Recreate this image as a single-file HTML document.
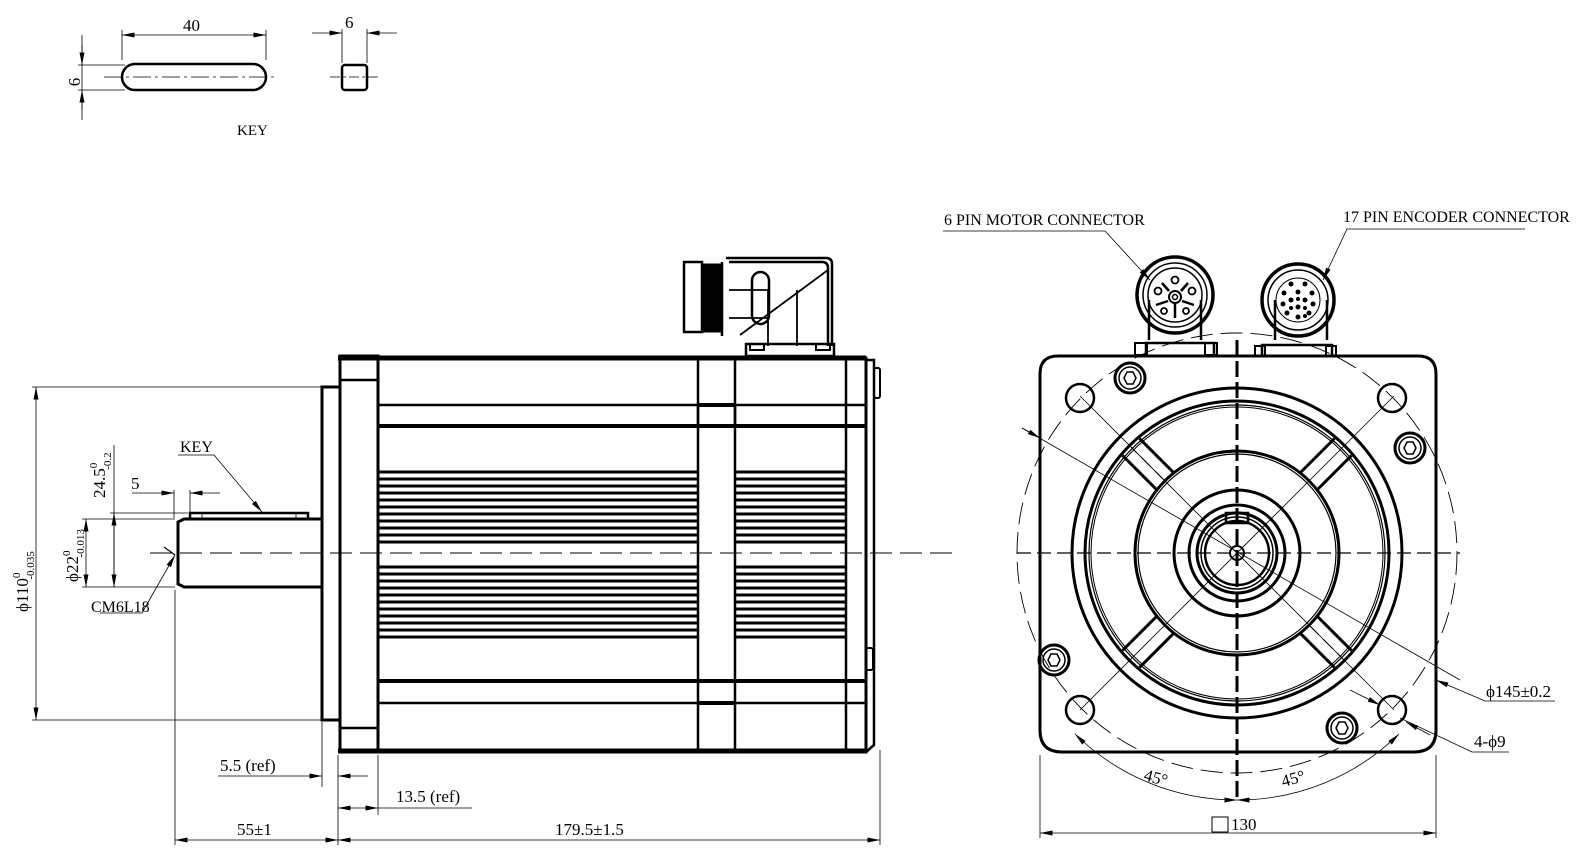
<!DOCTYPE html>
<html><head><meta charset="utf-8"><style>
html,body{margin:0;padding:0;background:#fff;width:1587px;height:867px;overflow:hidden}
svg{display:block}
text{font-family:"Liberation Serif",serif;fill:#000}
</style></head><body>
<svg width="1587" height="867" viewBox="0 0 1587 867" xmlns="http://www.w3.org/2000/svg">
<defs>
<marker id="a" viewBox="0 0 10 4" refX="10" refY="2" markerWidth="14" markerHeight="5" orient="auto-start-reverse" markerUnits="userSpaceOnUse"><path d="M0,0L10,2L0,4z" fill="#000"/></marker>
</defs>
<g stroke="#000" fill="none">
<!-- KEY detail -->
<rect x="122" y="64" width="144" height="26" rx="13" stroke-width="2.5"/>
<line x1="104" y1="77" x2="278" y2="77" stroke-width="0.8" stroke-dasharray="18,4,3,4"/>
<line x1="122" y1="60" x2="122" y2="30" stroke-width="0.8"/>
<line x1="266" y1="60" x2="266" y2="30" stroke-width="0.8"/>
<line x1="122" y1="35" x2="266" y2="35" stroke-width="0.8" marker-start="url(#a)" marker-end="url(#a)"/>
<line x1="78" y1="65" x2="125" y2="65" stroke-width="0.8"/>
<line x1="78" y1="90" x2="125" y2="90" stroke-width="0.8"/>
<line x1="82" y1="35" x2="82" y2="120" stroke-width="0.8"/>
<line x1="82" y1="45" x2="82" y2="65" stroke-width="0.8" marker-end="url(#a)"/>
<line x1="82" y1="110" x2="82" y2="90" stroke-width="0.8" marker-end="url(#a)"/>
<rect x="342" y="65" width="25" height="25" rx="3" stroke-width="2.5"/>
<line x1="330" y1="77" x2="380" y2="77" stroke-width="0.8" stroke-dasharray="10,3,3,3"/>
<line x1="342" y1="63" x2="342" y2="29" stroke-width="0.8"/>
<line x1="367" y1="63" x2="367" y2="29" stroke-width="0.8"/>
<line x1="312" y1="33" x2="342" y2="33" stroke-width="0.8" marker-end="url(#a)"/>
<line x1="397" y1="33" x2="367" y2="33" stroke-width="0.8" marker-end="url(#a)"/>

<!-- SIDE VIEW -->
<line x1="150" y1="553" x2="955" y2="553" stroke-width="1" stroke-dasharray="22,8"/>
<path d="M322,519 H184 L178,522 V584 L184,587 H322" stroke-width="3"/>
<path d="M190,519 V513 H308 V519" stroke-width="2.5"/>
<line x1="202" y1="514" x2="202" y2="520" stroke-width="0.8"/>
<line x1="296" y1="514" x2="296" y2="520" stroke-width="0.8"/>
<rect x="322" y="387" width="18" height="333" stroke-width="3"/>
<rect x="340" y="356" width="38" height="396" stroke-width="3"/>
<line x1="340" y1="380" x2="378" y2="380" stroke-width="2.5"/>
<line x1="340" y1="728" x2="378" y2="728" stroke-width="2.5"/>
<rect x="378" y="358" width="488" height="394" stroke-width="3"/>
<line x1="338" y1="358" x2="866" y2="358" stroke-width="5"/>
<line x1="338" y1="751" x2="866" y2="751" stroke-width="5"/>
<line x1="378" y1="405" x2="866" y2="405" stroke-width="2.5"/>
<line x1="378" y1="426" x2="866" y2="426" stroke-width="4"/>
<line x1="378" y1="681" x2="866" y2="681" stroke-width="4"/>
<line x1="378" y1="703" x2="866" y2="703" stroke-width="2.5"/>
<line x1="698" y1="358" x2="698" y2="752" stroke-width="2.5"/>
<line x1="735" y1="358" x2="735" y2="752" stroke-width="2.5"/>
<line x1="846" y1="358" x2="846" y2="752" stroke-width="2.5"/>
<rect x="698" y="405" width="37" height="21" stroke-width="2.5"/>
<line x1="698" y1="405" x2="735" y2="405" stroke-width="4"/>
<line x1="698" y1="703" x2="735" y2="703" stroke-width="4"/>
<path d="M378,472H698M378,479H698M378,486H698M378,493H698M378,500H698M378,507H698M378,514H698M378,521H698M378,528H698M378,535H698M378,574H698M378,581H698M378,588H698M378,595H698M378,602H698M378,609H698M378,616H698M378,623H698M378,630H698M378,637H698M378,567H698M378,542H698" stroke-width="3"/>
<path d="M735,472H846M735,479H846M735,486H846M735,493H846M735,500H846M735,507H846M735,514H846M735,521H846M735,528H846M735,535H846M735,574H846M735,581H846M735,588H846M735,595H846M735,602H846M735,609H846M735,616H846M735,623H846M735,630H846M735,637H846M735,567H846M735,542H846" stroke-width="3"/>
<path d="M866,360 H874 V745 L866,752" stroke-width="2.5"/>
<rect x="874" y="368" width="6" height="30" rx="2" stroke-width="2"/>
<rect x="866" y="648" width="7" height="22" rx="2" stroke-width="2"/>
<rect x="684" y="262" width="18" height="70" stroke-width="2.5"/>
<rect x="702" y="264" width="20" height="68" fill="#000" stroke-width="1"/>
<path d="M722,262 V336 M726,258 H826 Q832,258 832,264 V346 M729,262 H822 Q828,262 828,268 V346" stroke-width="2.5"/>
<path d="M729,290 H768 M729,318 H768 M768,290 V346 M797,290 V346 M740,335 L828,270" stroke-width="1.8"/>
<rect x="752" y="272" width="17" height="52" rx="8.5" stroke-width="2.5"/>
<rect x="746" y="344" width="88" height="12" stroke-width="2.5"/>
<rect x="750" y="344" width="14" height="6" stroke-width="2"/>
<rect x="816" y="344" width="14" height="6" stroke-width="2"/>
<line x1="322" y1="387" x2="32" y2="387" stroke-width="0.8"/>
<line x1="322" y1="720" x2="32" y2="720" stroke-width="0.8"/>
<line x1="36" y1="387" x2="36" y2="720" stroke-width="0.8" marker-start="url(#a)" marker-end="url(#a)"/>
<line x1="175" y1="519" x2="82" y2="519" stroke-width="0.8"/>
<line x1="175" y1="587" x2="82" y2="587" stroke-width="0.8"/>
<line x1="86" y1="519" x2="86" y2="587" stroke-width="0.8" marker-start="url(#a)" marker-end="url(#a)"/>
<line x1="188" y1="513" x2="110" y2="513" stroke-width="0.8"/>
<line x1="114" y1="445" x2="114" y2="587" stroke-width="0.8"/>
<line x1="114" y1="513" x2="114" y2="587" stroke-width="0.8" marker-start="url(#a)" marker-end="url(#a)"/>
<line x1="174" y1="490" x2="174" y2="518" stroke-width="0.8"/>
<line x1="190" y1="490" x2="190" y2="512" stroke-width="0.8"/>
<line x1="132" y1="493" x2="174" y2="493" stroke-width="0.8" marker-end="url(#a)"/>
<line x1="220" y1="493" x2="190" y2="493" stroke-width="0.8" marker-end="url(#a)"/>
<path d="M178,455 H214 L262,512" stroke-width="0.8" marker-end="url(#a)"/>
<path d="M100,613 H142 L175,555" stroke-width="0.8" marker-end="url(#a)"/>
<line x1="164" y1="547" x2="175" y2="555" stroke-width="1.2"/>
<line x1="175" y1="590" x2="175" y2="845" stroke-width="0.8"/>
<line x1="338" y1="755" x2="338" y2="845" stroke-width="0.8"/>
<line x1="322" y1="722" x2="322" y2="787" stroke-width="0.8"/>
<line x1="378" y1="755" x2="378" y2="815" stroke-width="0.8"/>
<line x1="880" y1="750" x2="880" y2="845" stroke-width="0.8"/>
<line x1="218" y1="776" x2="322" y2="776" stroke-width="0.8" marker-end="url(#a)"/>
<line x1="368" y1="776" x2="338" y2="776" stroke-width="0.8" marker-end="url(#a)"/>
<line x1="338" y1="808" x2="378" y2="808" stroke-width="0.8" marker-start="url(#a)" marker-end="url(#a)"/>
<line x1="378" y1="808" x2="472" y2="808" stroke-width="0.8"/>
<line x1="175" y1="840" x2="338" y2="840" stroke-width="0.8" marker-start="url(#a)" marker-end="url(#a)"/>
<line x1="338" y1="840" x2="880" y2="840" stroke-width="0.8" marker-start="url(#a)" marker-end="url(#a)"/>

<!-- FRONT VIEW -->
<path d="M1058,356 H1418 Q1436,356 1436,374 V730 Q1436,752 1414,752 H1062 Q1040,752 1040,730 V374 Q1040,356 1058,356Z" stroke-width="3"/>
<circle cx="1237" cy="553" r="220" stroke-width="0.9" stroke-dasharray="22,8"/>
<line x1="1017" y1="553" x2="1460" y2="553" stroke-width="1.2" stroke-dasharray="14,6"/>
<line x1="1237" y1="340" x2="1237" y2="800" stroke-width="3" stroke-dasharray="16,5"/>
<circle cx="1237" cy="553" r="165" stroke-width="3"/>
<circle cx="1237" cy="553" r="152" stroke-width="3"/>
<circle cx="1237" cy="553" r="148" stroke-width="1.2"/>
<circle cx="1237" cy="553" r="146" stroke-width="1"/>
<circle cx="1237" cy="553" r="102" stroke-width="3"/>
<circle cx="1237" cy="553" r="99" stroke-width="1.2"/>
<circle cx="1237" cy="553" r="63" stroke-width="3"/>
<circle cx="1237" cy="553" r="48" stroke-width="3"/>
<circle cx="1237" cy="553" r="40" stroke-width="3"/>
<circle cx="1237" cy="553" r="36" stroke-width="1.5"/>
<circle cx="1237" cy="553" r="32" stroke-width="2.5"/>
<rect x="1226" y="513" width="22" height="10" stroke-width="2.5"/>
<circle cx="1237" cy="553" r="7" stroke-width="2"/>
<g stroke-width="3">
<path d="M1173.5,472.5 L1139.5,438.5 M1156.5,489.5 L1122.5,455.5"/>
<path d="M1173.5,472.5 L1139.5,438.5 M1156.5,489.5 L1122.5,455.5" transform="rotate(90 1237 553)"/>
<path d="M1173.5,472.5 L1139.5,438.5 M1156.5,489.5 L1122.5,455.5" transform="rotate(180 1237 553)"/>
<path d="M1173.5,472.5 L1139.5,438.5 M1156.5,489.5 L1122.5,455.5" transform="rotate(270 1237 553)"/>
</g>
<g stroke-width="1" stroke-dasharray="14,6">
<line x1="1165" y1="481" x2="1131" y2="447"/>
<line x1="1309" y1="625" x2="1343" y2="659"/>
</g>
<g stroke-width="0.8">
<line x1="1080" y1="396" x2="1394" y2="710"/>
<line x1="1394" y1="396" x2="1080" y2="710"/>
<line x1="1022" y1="428" x2="1460" y2="680"/>
</g>
<g stroke-width="2.5">
<circle cx="1080" cy="398" r="14"/><circle cx="1392" cy="398" r="14"/>
<circle cx="1080" cy="710" r="14"/><circle cx="1392" cy="710" r="14"/>
</g>
<g stroke-width="3">
<circle cx="1130" cy="378" r="15"/><circle cx="1410" cy="448" r="15"/>
<circle cx="1054" cy="660" r="15"/><circle cx="1342" cy="728" r="15"/>
</g>
<g stroke-width="1.5">
<circle cx="1130" cy="378" r="11"/><circle cx="1410" cy="448" r="11"/>
<circle cx="1054" cy="660" r="11"/><circle cx="1342" cy="728" r="11"/>
<path d="M1124,378l3,-6h6l3,6l-3,6h-6z"/><path d="M1404,448l3,-6h6l3,6l-3,6h-6z"/>
<path d="M1048,660l3,-6h6l3,6l-3,6h-6z"/><path d="M1336,728l3,-6h6l3,6l-3,6h-6z"/>
</g>
<path d="M1149,340 V300 M1201,340 V300" stroke-width="2.5"/>
<rect x="1146" y="343" width="68" height="13" stroke-width="2.5"/>
<rect x="1135" y="343" width="12" height="12" stroke-width="2"/>
<rect x="1205" y="343" width="12" height="12" stroke-width="2"/>
<circle cx="1175" cy="295" r="38" stroke-width="3.5"/>
<circle cx="1175" cy="295" r="32" stroke-width="1.5"/>
<circle cx="1175" cy="295" r="27" stroke-width="1.5"/>
<circle cx="1175" cy="297" r="6" stroke-width="2"/>
<circle cx="1175" cy="297" r="2.5" stroke-width="1.5"/>
<g stroke-width="1.8"><circle cx="1175" cy="280" r="3.5"/><circle cx="1158" cy="291" r="3.5"/><circle cx="1192" cy="291" r="3.5"/><circle cx="1164" cy="311" r="3"/><circle cx="1186" cy="311" r="3"/></g>
<path d="M1168,301L1156,305 M1182,301L1194,305 M1175,303V318 M1169,291L1162,283 M1181,291L1188,283" stroke-width="2.5"/>
<path d="M1275,340 V300 M1327,340 V300" stroke-width="2.5"/>
<rect x="1262" y="345" width="70" height="11" stroke-width="2.5"/>
<rect x="1255" y="346" width="10" height="10" stroke-width="2"/>
<rect x="1326" y="346" width="10" height="10" stroke-width="2"/>
<circle cx="1298" cy="300" r="36" stroke-width="3.5"/>
<circle cx="1298" cy="300" r="30" stroke-width="1.5"/>
<circle cx="1298" cy="300" r="22" stroke-width="1"/>
<g fill="#000" stroke="none">
<circle cx="1291" cy="284" r="2.5"/><circle cx="1305" cy="284" r="2.5"/><circle cx="1284" cy="293" r="2.5"/><circle cx="1298" cy="292" r="2.5"/><circle cx="1312" cy="293" r="2.5"/>
<circle cx="1283" cy="304" r="2.5"/><circle cx="1291" cy="300" r="2.5"/><circle cx="1305" cy="300" r="2.5"/><circle cx="1313" cy="304" r="2.5"/><circle cx="1298" cy="307" r="2.5"/>
<circle cx="1287" cy="313" r="2.5"/><circle cx="1298" cy="317" r="2.5"/><circle cx="1309" cy="313" r="2.5"/><circle cx="1291" cy="308" r="2"/><circle cx="1305" cy="308" r="2"/><circle cx="1298" cy="299" r="2"/><circle cx="1305" cy="316" r="2"/>
</g>
<path d="M943,231 H1105 L1150,280" stroke-width="0.8" marker-end="url(#a)"/>
<path d="M1525,229 H1347 L1323,280" stroke-width="0.8" marker-end="url(#a)"/>
<path d="M1555,701 H1485 L1436,680" stroke-width="0.8" marker-end="url(#a)"/>
<path d="M1509,752 H1472 L1400,718" stroke-width="0.8"/>
<line x1="1350" y1="690" x2="1380" y2="705" stroke-width="0.8" marker-end="url(#a)"/>
<line x1="1430" y1="735" x2="1406" y2="722" stroke-width="0.8" marker-end="url(#a)"/>
<line x1="1022" y1="428" x2="1040" y2="438" stroke-width="0.8" marker-end="url(#a)"/>
<path d="M1075,734 A230,230 0 0 0 1237,800" stroke-width="0.8" marker-start="url(#a)" marker-end="url(#a)"/>
<path d="M1237,800 A230,230 0 0 0 1399,734" stroke-width="0.8" marker-start="url(#a)" marker-end="url(#a)"/>
<line x1="1040" y1="755" x2="1040" y2="838" stroke-width="0.8"/>
<line x1="1436" y1="755" x2="1436" y2="838" stroke-width="0.8"/>
<line x1="1040" y1="833" x2="1436" y2="833" stroke-width="0.8" marker-start="url(#a)" marker-end="url(#a)"/>
<rect x="1212" y="817" width="16" height="15" stroke-width="1"/>
</g>
<g font-size="17">
<text x="183" y="31">40</text>
<text x="345" y="28">6</text>
<text x="80" y="82" transform="rotate(-90 80 82)" text-anchor="middle">6</text>
<text x="237" y="135" font-size="15">KEY</text>
<text x="180" y="452" font-size="16">KEY</text>
<text x="131" y="489">5</text>
<text x="91" y="612" font-size="16">CM6L18</text>
<text x="105" y="498" transform="rotate(-90 105 498)">24.5<tspan font-size="11" dy="-8">0</tspan><tspan font-size="11" dx="-7" dy="14">-0.2</tspan></text>
<text x="78" y="582" transform="rotate(-90 78 582)">ϕ22<tspan font-size="11" dy="-8">0</tspan><tspan font-size="11" dx="-7" dy="14">-0.013</tspan></text>
<text x="28" y="612" transform="rotate(-90 28 612)">ϕ110<tspan font-size="11" dy="-8">0</tspan><tspan font-size="11" dx="-7" dy="14">-0.035</tspan></text>
<text x="220" y="771">5.5 (ref)</text>
<text x="396" y="802">13.5 (ref)</text>
<text x="237" y="835">55±1</text>
<text x="555" y="835">179.5±1.5</text>
<text x="944" y="225" font-size="16">6 PIN MOTOR CONNECTOR</text>
<text x="1343" y="222" font-size="16">17 PIN ENCODER CONNECTOR</text>
<text x="1486" y="697">ϕ145±0.2</text>
<text x="1474" y="747">4-ϕ9</text>
<text x="1143" y="780" transform="rotate(15 1143 780)">45°</text>
<text x="1283" y="787" transform="rotate(-15 1283 787)">45°</text>
<text x="1231" y="830">130</text>
</g>
</svg>
</body></html>
